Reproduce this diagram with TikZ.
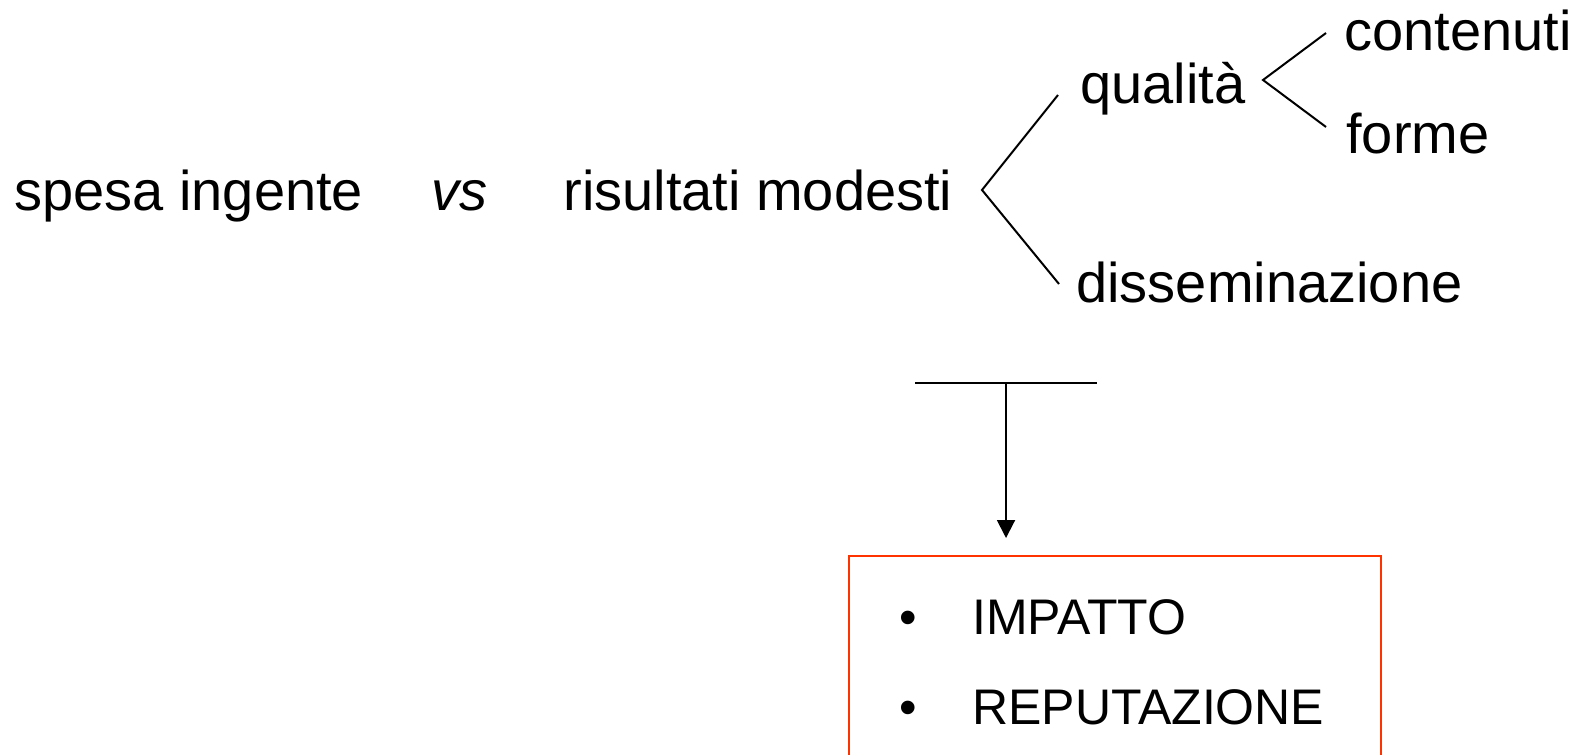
\documentclass[tikz,border=0pt]{standalone}
\usepackage{fontspec}
\setmainfont{Liberation Sans}
\usetikzlibrary{arrows.meta}
\usetikzlibrary{positioning}
\definecolor{boxred}{RGB}{255,51,0}

\begin{document}
\begin{tikzpicture}[x=0.5pt,y=-0.5pt,
  lbl/.style={anchor=base west,inner sep=0pt,font=\fontsize{28}{34}\selectfont},
  itm/.style={anchor=base west,inner sep=0pt,font=\fontsize{25}{30}\selectfont},
  dot/.style={anchor=base,inner sep=0pt,font=\fontsize{25}{30}\selectfont},
  wire/.style={line width=1pt},
  esitobox/.style={draw=boxred,line width=1.2pt,anchor=north west,inner sep=0pt,
    minimum width=266pt,minimum height=150pt}]
\useasboundingbox (0,0) rectangle (1577,754);
\clip (0,0) rectangle (1577,754);

%% the main line of text
\node[lbl] (spesa) at (14,211) {spesa ingente};
\node[lbl] (vs) at (431,211) {\itshape vs};
\node[lbl] (risultati) at (563,211) {risultati modesti};

%% first split
\node[lbl] (qualita) at (1080,104) {qualità};
\node[lbl] (dissem) at (1076,302) {disseminazione};
\coordinate (v1) at (982,190);
\coordinate (q1) at (1058,95);
\coordinate (d1) at (1059,284);
\draw[wire] (q1) -- (v1) -- (d1);

%% second split
\node[lbl] (contenuti) at (1344,51) {contenuti};
\node[lbl] (forme) at (1346,154) {forme};
\coordinate (v2) at (1263,80);
\coordinate (c2) at (1326,33);
\coordinate (f2) at (1326,127);
\draw[wire] (c2) -- (v2) -- (f2);

%% bar and arrow down to the box
\coordinate (barl) at (915,383);
\coordinate (barr) at (1097,383);
\coordinate (barm) at (1006,383);
\coordinate (tip) at (1006,538);
\draw[wire] (barl) -- (barr);
\draw[wire,-{Triangle[width=9pt,length=9pt]}] (barm) -- (tip);

%% the box
\node[esitobox] (esito) at (848,555) {};
\node[dot] (b1) at (908,634) {•};
\node[itm] (impatto) at (972,634) {IMPATTO};
\node[dot] (b2) at (908,724) {•};
\node[itm] (reputazione) at (972,724) {REPUTAZIONE};
\end{tikzpicture}
\end{document}
